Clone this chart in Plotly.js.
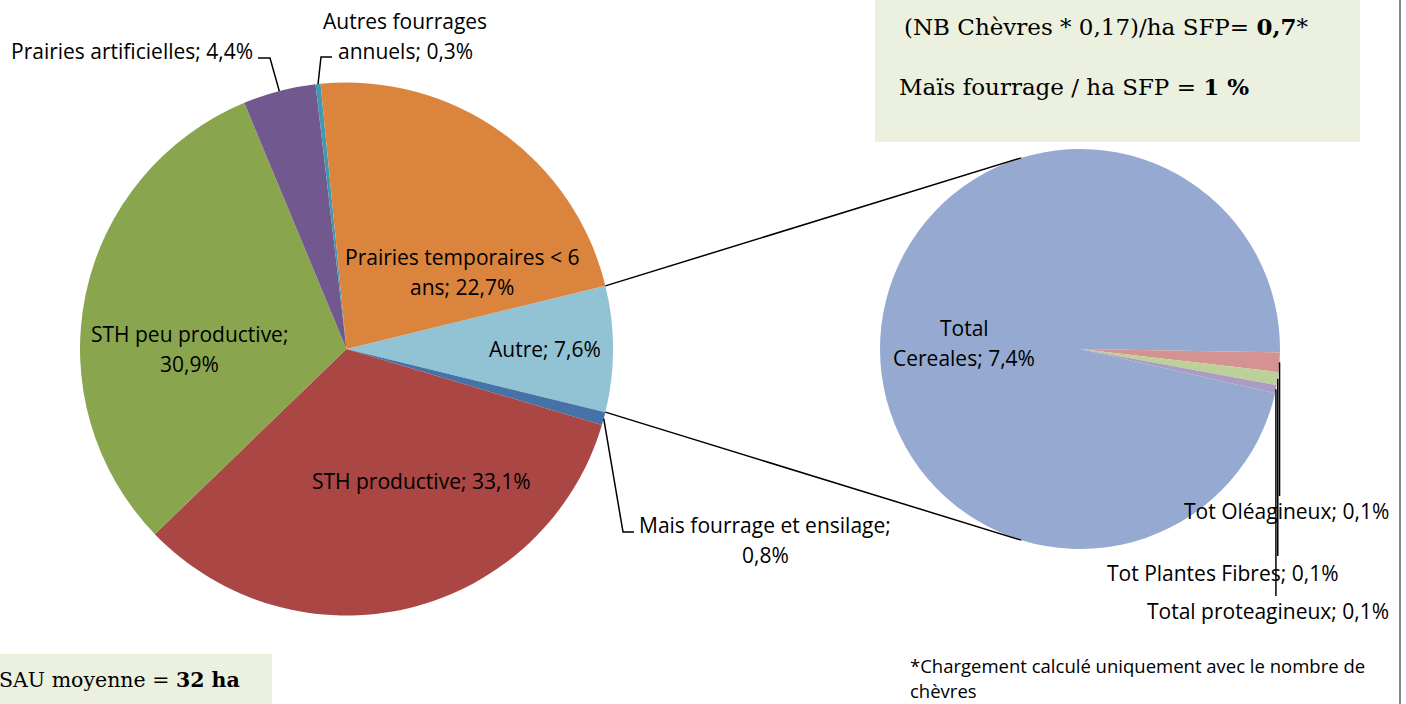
<!DOCTYPE html>
<html>
<head>
<meta charset="utf-8">
<script src="https://cdn.plot.ly/plotly-3.0.1.min.js"></script>
<style>
  body { margin: 0; background: #fff; }
  #chart { width: 1406px; height: 704px; }
</style>
</head>
<body>
<div id="chart"></div>
<script>
// main pie, clockwise starting with the "Autre" slice
const mainLabels = ["Autre", "Mais fourrage et ensilage", "STH productive", "STH peu productive",
  "Prairies artificielles", "Autres fourrages annuels", "Prairies temporaires < 6 ans"];
const mainValues = [7.6, 0.8, 33.1, 30.9, 4.4, 0.3, 22.7];
const mainColors = ["#92C3D4", "#4572A7", "#AA4643", "#89A54E", "#71588F", "#4198AF", "#DB843D"];

// detail of "Autre"
const subLabels = ["Total Cereales", "Tot Oléagineux", "Tot Plantes Fibres", "Total proteagineux"];
const subValues = [7.4, 0.12, 0.08, 0.05];
const subColors = ["#95A9D1", "#D49290", "#BCD09A", "#AA9CC2"];

const W = 1406, H = 704;
const px = x => x / W;
const py = y => 1 - y / H;

// pie geometry (pixels)
const big = { cx: 346.5, cy: 349, r: 266.5 };
const small = { cx: 1080, cy: 349, r: 200 };
const subStart = 91; // where the first small slice begins, deg clockwise from top

const sum = a => a.reduce((s, v) => s + v, 0);
const fmt = v => (Math.round(v * 10) / 10).toFixed(1).replace(".", ",");

const mainTotal = sum(mainValues);
const subTotal = sum(subValues);
const mainRot = 90 - mainValues[0] / mainTotal * 360 / 2;
const subRot = subStart - subValues[0] / subTotal * 360;

// angle (deg clockwise from top) of the middle of slice i
function midAngle(values, rot, i) {
  const tot = sum(values);
  const before = sum(values.slice(0, i));
  return rot + (before + values[i] / 2) / tot * 360;
}
function onEdge(p, deg) {
  const a = deg * Math.PI / 180;
  return [p.cx + p.r * Math.sin(a), p.cy - p.r * Math.cos(a)];
}

const font = "Open Sans, sans-serif";
const serif = "DejaVu Serif, serif";

// label placement: center/anchor in pixels, wrap width, elbow points of leader line
const mainPos = [
  { x: 545, y: 349, wrap: 40 },
  { x: 765, y: 540, wrap: 26, leader: [[623, 532], [634, 532]] },
  { x: 422, y: 481, wrap: 40 },
  { x: 189, y: 349, wrap: 19 },
  { x: 255, y: 51, wrap: 40, anchor: "right", leader: [[270, 58], [258, 58]] },
  { x: 405, y: 36, wrap: 16, leader: [[321, 57], [332, 57]] },
  { x: 462, y: 272, wrap: 24 }
];
const subPos = [
  { x: 964, y: 343, wrap: 14 },
  { x: 1391, y: 511, wrap: 40, anchor: "right", leader: [[null, 496]] },
  { x: 1341, y: 573, wrap: 40, anchor: "right", leader: [[null, 556]] },
  { x: 1391, y: 611, wrap: 40, anchor: "right", leader: [[null, 596]] }
];

function wrapText(text, width) {
  const lines = [];
  let cur = "";
  text.split(" ").forEach(w => {
    if (cur && (cur + " " + w).length > width) { lines.push(cur); cur = w; }
    else cur = cur ? cur + " " + w : w;
  });
  lines.push(cur);
  return lines;
}

const annotations = [];
const shapes = [];

function addLabels(labels, values, pos, pie, rot) {
  labels.forEach((lab, i) => {
    const p = pos[i];
    const lines = wrapText(lab + "; " + fmt(values[i]) + "%", p.wrap);
    lines.forEach((ln, k) => {
      annotations.push({
        text: ln, xref: "paper", yref: "paper",
        x: px(p.x), y: py(p.y + (k - (lines.length - 1) / 2) * 30),
        xanchor: p.anchor || "center", yanchor: "middle", showarrow: false,
        font: { family: font, size: 21, color: "#000" }
      });
    });
    if (p.leader) {
      const start = onEdge(pie, midAngle(values, rot, i));
      const pts = [start].concat(p.leader.map(q => [q[0] === null ? start[0] : q[0], q[1]]));
      const path = pts.map((q, k) => (k ? "L" : "M") + px(q[0]) + "," + py(q[1])).join(" ");
      shapes.push({ type: "path", xref: "paper", yref: "paper", path: path,
        line: { color: "#000", width: 1.5 } });
    }
  });
}
addLabels(mainLabels, mainValues, mainPos, big, mainRot);
addLabels(subLabels, subValues, subPos, small, subRot);

// connector lines: from the edges of "Autre" tangent to the small pie
const half = mainValues[0] / mainTotal * 180;
[90 - half, 90 + half].forEach((deg, k) => {
  const p = onEdge(big, deg);
  const dx = p[0] - small.cx, dy = p[1] - small.cy;
  const d = Math.hypot(dx, dy);
  const base = Math.atan2(dy, dx);
  const off = Math.acos(small.r / d);
  const a = k === 0 ? base + off : base - off;
  const q = [small.cx + small.r * Math.cos(a), small.cy + small.r * Math.sin(a)];
  shapes.push({ type: "line", xref: "paper", yref: "paper",
    x0: px(p[0]), y0: py(p[1]), x1: px(q[0]), y1: py(q[1]),
    line: { color: "#000", width: 1.5 } });
});

// text boxes and frame
shapes.push({ type: "rect", xref: "paper", yref: "paper", layer: "below",
  x0: px(875), x1: px(1360), y0: py(142), y1: py(-5), fillcolor: "#EBF1DE", line: { width: 0 } });
shapes.push({ type: "rect", xref: "paper", yref: "paper", layer: "below",
  x0: px(-5), x1: px(272), y0: py(710), y1: py(654), fillcolor: "#EBF1DE", line: { width: 0 } });
shapes.push({ type: "line", xref: "paper", yref: "paper",
  x0: px(1400), x1: px(1400), y0: 0, y1: 1, line: { color: "#878787", width: 2 } });

const note = (text, x, y, f) => annotations.push({
  text: text, xref: "paper", yref: "paper", x: px(x), y: py(y),
  xanchor: "left", yanchor: "middle", showarrow: false, align: "left", font: f
});
note("(NB Chèvres * 0,17)/ha SFP= <b>0,7</b>*", 902, 26, { family: serif, size: 23, color: "#000" });
note("Maïs fourrage / ha SFP = <b>1 %</b>", 897, 86, { family: serif, size: 23, color: "#000" });
note("SAU moyenne = <b>32 ha</b>", -3, 680, { family: serif, size: 20.5, color: "#000" });
note("*Chargement calculé uniquement avec le nombre de", 908, 665, { family: font, size: 18.5, color: "#000" });
note("chèvres", 908, 690, { family: font, size: 18.5, color: "#000" });

const data = [
  {
    type: "pie", labels: mainLabels, values: mainValues, sort: false,
    direction: "clockwise", rotation: mainRot, textinfo: "none", hoverinfo: "label+percent",
    marker: { colors: mainColors, line: { width: 0 } },
    domain: { x: [px(big.cx - big.r), px(big.cx + big.r)], y: [py(big.cy + big.r), py(big.cy - big.r)] }
  },
  {
    type: "pie", labels: subLabels, values: subValues, sort: false,
    direction: "clockwise", rotation: subRot, textinfo: "none", hoverinfo: "label+percent",
    marker: { colors: subColors, line: { width: 0 } },
    domain: { x: [px(small.cx - small.r), px(small.cx + small.r)], y: [py(small.cy + small.r), py(small.cy - small.r)] }
  }
];

const layout = {
  width: W, height: H,
  margin: { l: 0, r: 0, t: 0, b: 0, pad: 0 },
  showlegend: false,
  paper_bgcolor: "#fff",
  annotations: annotations,
  shapes: shapes
};

Plotly.newPlot("chart", data, layout, { displayModeBar: false, staticPlot: true });
</script>
</body>
</html>
